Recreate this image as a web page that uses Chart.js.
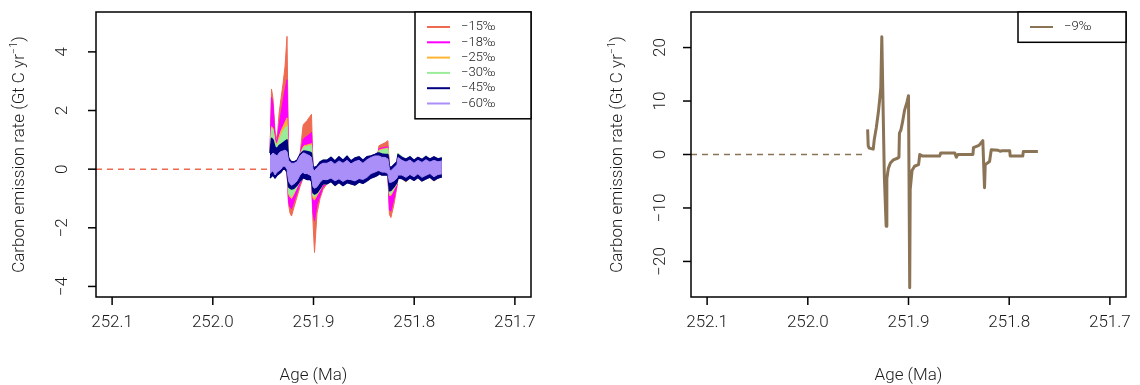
<!DOCTYPE html>
<html>
<head>
<meta charset="utf-8">
<script src="https://cdn.jsdelivr.net/npm/chart.js@4.4.1/dist/chart.umd.min.js"></script>
<style>
  body { margin: 0; background: #fff; }
  .panel { position: absolute; top: 0; }
</style>
</head>
<body>
<div class="panel" style="left:0"><canvas id="left" width="570" height="385"></canvas></div>
<div class="panel" style="left:570px"><canvas id="right" width="570" height="385"></canvas></div>
<script>
'use strict';

// shared axis ticks
const ageTicks = [252.1, 252.0, 251.9, 251.8, 251.7];
const leftRateTicks = [-4, -2, 0, 2, 4];
const rightRateTicks = [-20, -10, 0, 10, 20];

// left panel: upper / lower envelope of each scenario on a common age grid (Ma)
const ages = [251.9432, 251.9417, 251.9402, 251.9382, 251.9362, 251.9342, 251.9323, 251.9303, 251.9283, 251.9263,
  251.9248, 251.9233, 251.9218, 251.9194, 251.9164, 251.9134, 251.9104, 251.9094, 251.9065, 251.9035,
  251.9020, 251.9005, 251.8990, 251.8965, 251.8935, 251.8906, 251.8866, 251.8826, 251.8787, 251.8747,
  251.8707, 251.8667, 251.8628, 251.8588, 251.8548, 251.8509, 251.8469, 251.8429, 251.8390, 251.8360,
  251.8350, 251.8320, 251.8290, 251.8261, 251.8246, 251.8231, 251.8201, 251.8171, 251.8161, 251.8122,
  251.8082, 251.8042, 251.8002, 251.7963, 251.7923, 251.7883, 251.7844, 251.7804, 251.7764, 251.7725];

const hi15 = [0.6, 2.73, 2.4, 1.3, 1.0, 1.9, 2.4, 2.9, 3.5, 4.53,
  0.4, 0.3, 0.25, 0.25, 0.3, 0.5, 1.48, 1.55, 1.65, 1.8,
  1.87, 0.1, 0.05, 0.1, 0.25, 0.3, 0.3, 0.4, 0.28, 0.42,
  0.3, 0.44, 0.28, 0.38, 0.42, 0.3, 0.42, 0.45, 0.5, 0.55,
  0.8, 0.85, 0.9, 0.97, 0.1, 0.05, 0.15, 0.25, 0.5, 0.4,
  0.34, 0.42, 0.3, 0.4, 0.33, 0.43, 0.34, 0.42, 0.35, 0.38];
const lo15 = [-0.3, -0.25, -0.2, -0.3, -0.2, -0.15, -0.1, 0.0, 0.0, -0.1,
  -1.2, -1.5, -1.6, -1.3, -0.95, -0.6, -0.3, -0.3, -0.35, -0.35,
  -0.4, -1.8, -2.84, -1.5, -1.0, -0.7, -0.5, -0.42, -0.55, -0.45,
  -0.56, -0.46, -0.5, -0.54, -0.44, -0.48, -0.4, -0.3, -0.25, -0.2,
  -0.15, -0.2, -0.2, -0.2, -1.55, -1.65, -1.2, -0.6, -0.3, -0.32,
  -0.4, -0.3, -0.38, -0.28, -0.4, -0.33, -0.27, -0.38, -0.3, -0.26];

const hi18 = [0.6, 2.45, 2.2, 1.1, 0.9, 1.5, 1.9, 2.3, 2.7, 3.05,
  0.4, 0.3, 0.25, 0.25, 0.3, 0.5, 1.0, 1.05, 1.12, 1.2,
  1.25, 0.1, 0.05, 0.1, 0.25, 0.3, 0.3, 0.4, 0.28, 0.42,
  0.3, 0.44, 0.28, 0.38, 0.42, 0.3, 0.42, 0.45, 0.5, 0.55,
  0.7, 0.72, 0.74, 0.76, 0.1, 0.05, 0.15, 0.25, 0.5, 0.4,
  0.34, 0.42, 0.3, 0.4, 0.33, 0.43, 0.34, 0.42, 0.35, 0.38];
const lo18 = [-0.3, -0.25, -0.2, -0.3, -0.2, -0.15, -0.1, 0.0, 0.0, -0.1,
  -1.1, -1.3, -1.35, -1.1, -0.8, -0.5, -0.3, -0.3, -0.35, -0.35,
  -0.4, -1.5, -1.76, -1.2, -0.9, -0.6, -0.5, -0.42, -0.55, -0.45,
  -0.56, -0.46, -0.5, -0.54, -0.44, -0.48, -0.4, -0.3, -0.25, -0.2,
  -0.15, -0.2, -0.2, -0.2, -1.4, -1.42, -1.0, -0.55, -0.3, -0.32,
  -0.4, -0.3, -0.38, -0.28, -0.4, -0.33, -0.27, -0.38, -0.3, -0.26];

const hi25 = [0.55, 1.45, 1.4, 0.95, 0.85, 1.1, 1.3, 1.45, 1.6, 1.75,
  0.4, 0.3, 0.25, 0.25, 0.3, 0.5, 0.75, 0.8, 0.82, 0.85,
  0.87, 0.1, 0.05, 0.1, 0.25, 0.3, 0.3, 0.4, 0.28, 0.42,
  0.3, 0.44, 0.28, 0.38, 0.42, 0.3, 0.42, 0.45, 0.5, 0.55,
  0.65, 0.68, 0.7, 0.72, 0.1, 0.05, 0.15, 0.25, 0.55, 0.4,
  0.34, 0.42, 0.3, 0.4, 0.33, 0.43, 0.34, 0.42, 0.35, 0.38];
const lo25 = [-0.3, -0.25, -0.2, -0.3, -0.2, -0.15, -0.1, 0.0, 0.0, -0.1,
  -0.85, -0.95, -1.0, -0.85, -0.62, -0.42, -0.3, -0.3, -0.35, -0.35,
  -0.4, -1.0, -1.05, -0.9, -0.72, -0.52, -0.5, -0.42, -0.58, -0.45,
  -0.56, -0.46, -0.5, -0.54, -0.44, -0.48, -0.4, -0.3, -0.25, -0.2,
  -0.15, -0.2, -0.2, -0.2, -0.9, -0.9, -0.7, -0.5, -0.3, -0.32,
  -0.44, -0.3, -0.38, -0.28, -0.4, -0.33, -0.27, -0.41, -0.3, -0.26];

const hi30 = [0.55, 1.4, 1.35, 0.9, 0.8, 1.0, 1.15, 1.3, 1.4, 1.48,
  0.4, 0.3, 0.25, 0.25, 0.3, 0.5, 0.7, 0.75, 0.78, 0.8,
  0.82, 0.1, 0.05, 0.1, 0.25, 0.32, 0.3, 0.43, 0.28, 0.45,
  0.3, 0.47, 0.28, 0.38, 0.45, 0.3, 0.42, 0.45, 0.5, 0.55,
  0.62, 0.65, 0.68, 0.7, 0.1, 0.05, 0.15, 0.25, 0.55, 0.43,
  0.34, 0.45, 0.3, 0.4, 0.33, 0.46, 0.34, 0.42, 0.35, 0.41];
const lo30 = [-0.3, -0.2, -0.2, -0.3, -0.2, -0.1, 0.0, 0.05, 0.05, 0.0,
  -0.8, -0.9, -0.95, -0.8, -0.6, -0.42, -0.3, -0.3, -0.35, -0.35,
  -0.4, -0.9, -0.95, -0.85, -0.7, -0.5, -0.5, -0.42, -0.55, -0.45,
  -0.56, -0.46, -0.5, -0.54, -0.44, -0.48, -0.4, -0.3, -0.25, -0.2,
  -0.15, -0.2, -0.2, -0.2, -0.85, -0.85, -0.65, -0.5, -0.3, -0.32,
  -0.4, -0.3, -0.38, -0.28, -0.4, -0.33, -0.27, -0.38, -0.3, -0.26];

const hi45 = [0.55, 1.05, 1.0, 0.75, 0.7, 0.8, 0.85, 0.9, 0.95, 1.0,
  0.4, 0.3, 0.25, 0.25, 0.3, 0.5, 0.6, 0.62, 0.6, 0.58,
  0.55, 0.1, 0.05, 0.1, 0.25, 0.3, 0.3, 0.4, 0.28, 0.42,
  0.3, 0.44, 0.28, 0.38, 0.42, 0.3, 0.42, 0.45, 0.5, 0.55,
  0.55, 0.52, 0.5, 0.5, 0.1, 0.05, 0.15, 0.25, 0.5, 0.4,
  0.34, 0.42, 0.3, 0.4, 0.33, 0.43, 0.34, 0.42, 0.35, 0.38];
const lo45 = [-0.3, -0.25, -0.2, -0.3, -0.2, -0.15, -0.1, 0.0, 0.0, -0.1,
  -0.6, -0.65, -0.68, -0.65, -0.55, -0.4, -0.3, -0.3, -0.35, -0.35,
  -0.4, -0.8, -0.85, -0.8, -0.65, -0.5, -0.5, -0.42, -0.55, -0.45,
  -0.56, -0.46, -0.5, -0.54, -0.44, -0.48, -0.4, -0.3, -0.25, -0.2,
  -0.15, -0.2, -0.2, -0.2, -0.74, -0.72, -0.6, -0.45, -0.3, -0.32,
  -0.4, -0.3, -0.38, -0.28, -0.4, -0.33, -0.27, -0.38, -0.3, -0.26];

const hi60 = [0.45, 0.5, 0.55, 0.5, 0.45, 0.55, 0.6, 0.62, 0.65, 0.6,
  0.3, 0.25, 0.2, 0.2, 0.25, 0.45, 0.55, 0.55, 0.5, 0.45,
  0.4, 0.0, -0.05, 0.05, 0.15, 0.2, 0.2, 0.27, 0.17, 0.28,
  0.2, 0.3, 0.18, 0.26, 0.3, 0.2, 0.32, 0.4, 0.45, 0.45,
  0.45, 0.4, 0.4, 0.35, 0.0, -0.05, 0.05, 0.15, 0.4, 0.3,
  0.24, 0.31, 0.2, 0.3, 0.23, 0.32, 0.24, 0.3, 0.25, 0.28];
const lo60 = [-0.15, -0.1, -0.05, -0.2, -0.1, -0.05, 0.0, 0.1, 0.1, 0.0,
  -0.4, -0.5, -0.55, -0.5, -0.4, -0.2, -0.1, -0.15, -0.15, -0.2,
  -0.25, -0.6, -0.65, -0.6, -0.45, -0.35, -0.36, -0.3, -0.4, -0.33,
  -0.42, -0.34, -0.36, -0.4, -0.32, -0.35, -0.28, -0.15, -0.1, -0.05,
  -0.05, -0.1, -0.1, -0.15, -0.45, -0.45, -0.4, -0.3, -0.2, -0.2,
  -0.28, -0.18, -0.26, -0.16, -0.28, -0.21, -0.15, -0.26, -0.18, -0.16];

const leftLabels = ['\u221215\u2030', '\u221218\u2030', '\u221225\u2030', '\u221230\u2030', '\u221245\u2030', '\u221260\u2030'];
const leftColors = ['#ee6a50', '#ff00ff', '#ffb534', '#9aeb9a', '#000080', '#ab8ff8'];

// pre-event baseline (dashed) for both panels
const leftBaseAge = [252.116, 251.9445];
const rightBaseAge = [252.116, 251.9420];

// right panel: -9 permil scenario
const rightAges = [251.9406, 251.9400, 251.9390, 251.9350, 251.9340, 251.9320, 251.9300, 251.9285, 251.9275, 251.9265,
  251.9240, 251.9222, 251.9215, 251.9200, 251.9180, 251.9150, 251.9110, 251.9095, 251.9090, 251.9075,
  251.9060, 251.9040, 251.9015, 251.9000, 251.8988, 251.8983, 251.8965, 251.8940, 251.8900, 251.8888,
  251.8860, 251.8690, 251.8680, 251.8540, 251.8525, 251.8510, 251.8360, 251.8355, 251.8300, 251.8262,
  251.8245, 251.8238, 251.8195, 251.8178, 251.8110, 251.8090, 251.8070, 251.7995, 251.7990, 251.7865,
  251.7860, 251.7715];
const rightRates = [4.7, 1.6, 1.2, 1.0, 2.8, 5.0, 7.8, 10.5, 12.5, 22.0,
  -4.0, -13.4, -4.5, -2.6, -1.6, -1.0, -0.7, -0.5, 4.0, 4.6,
  6.0, 8.2, 9.8, 11.0, -24.9, -6.5, -3.0, -2.2, -1.9, 0.0,
  -0.3, -0.3, 0.3, 0.3, -0.5, 0.0, 0.0, 1.3, 1.7, 2.6,
  -6.2, -1.9, -1.3, 0.9, 0.8, 0.6, 0.7, 0.7, -0.3, -0.3,
  0.55, 0.55];
const rightLabels = ['\u22129\u2030'];
const rightColors = ['#8b7355'];

const FONT = 'Roboto, "Liberation Sans", Arial, sans-serif';
const INK = '#1a1a1a';

const pts = (xs, ys) => xs.map((x, i) => ({ x: x, y: ys[i] }));

// one filled band per scenario: upper edge fills down to the lower edge
function band(hi, lo, color, w) {
  return [
    { data: pts(ages, hi), borderColor: color, backgroundColor: color, borderWidth: w, fill: '+1' },
    { data: pts(ages, lo), borderColor: color, backgroundColor: color, borderWidth: w, fill: false }
  ];
}

function minus(v) {
  return v < 0 ? '\u2212' + Math.abs(v) : String(v);
}

// R-style box, ticks, labels, titles and legend
const frame = {
  id: 'frame',
  afterDraw(chart, args, o) {
    const { ctx, chartArea: a, scales } = chart;
    const x = scales.x, y = scales.y;
    ctx.save();
    ctx.strokeStyle = '#000';
    ctx.lineWidth = 1.5;
    ctx.strokeRect(a.left, a.top, a.right - a.left, a.bottom - a.top);

    ctx.fillStyle = INK;
    ctx.font = '300 17px ' + FONT;
    ctx.textAlign = 'center';
    ctx.textBaseline = 'middle';

    ageTicks.forEach(t => {
      const px = x.getPixelForValue(t);
      ctx.beginPath();
      ctx.moveTo(px, a.bottom);
      ctx.lineTo(px, a.bottom + 8);
      ctx.stroke();
      ctx.fillText(t.toFixed(1), px, a.bottom + 26);
    });

    o.yTicks.forEach(t => {
      const py = y.getPixelForValue(t);
      ctx.beginPath();
      ctx.moveTo(a.left - 8, py);
      ctx.lineTo(a.left, py);
      ctx.stroke();
      ctx.save();
      ctx.translate(a.left - o.labelGap, py);
      ctx.rotate(-Math.PI / 2);
      ctx.fillText(minus(t), 0, 0);
      ctx.restore();
    });

    ctx.fillText('Age (Ma)', (a.left + a.right) / 2, a.bottom + 79);

    // y title with superscript exponent
    const t1 = 'Carbon emission rate (Gt C yr', sup = '\u22121', t3 = ')';
    const w1 = ctx.measureText(t1).width, w3 = ctx.measureText(t3).width;
    ctx.font = '300 11px ' + FONT;
    const ws = ctx.measureText(sup).width;
    const total = w1 + ws + w3;
    ctx.save();
    ctx.translate(a.left - o.titleGap, (a.top + a.bottom) / 2);
    ctx.rotate(-Math.PI / 2);
    ctx.textAlign = 'left';
    ctx.font = '300 17px ' + FONT;
    ctx.fillText(t1, -total / 2, 0);
    ctx.font = '300 11px ' + FONT;
    ctx.fillText(sup, -total / 2 + w1, -6);
    ctx.font = '300 17px ' + FONT;
    ctx.fillText(t3, -total / 2 + w1 + ws, 0);
    ctx.restore();

    // legend box in the top right corner
    const lg = o.legend;
    const bx = a.right - lg.width, by = a.top;
    const bh = 15 + lg.labels.length * 15.3;
    ctx.fillStyle = '#fff';
    ctx.fillRect(bx, by, lg.width, bh);
    ctx.strokeStyle = '#000';
    ctx.lineWidth = 1.5;
    ctx.strokeRect(bx, by, lg.width, bh);
    ctx.font = '300 13px ' + FONT;
    ctx.textAlign = 'left';
    lg.labels.forEach((lab, i) => {
      const ry = by + 15 + i * 15.3;
      ctx.strokeStyle = lg.colors[i];
      ctx.lineWidth = 2;
      ctx.beginPath();
      ctx.moveTo(bx + 12, ry);
      ctx.lineTo(bx + 35, ry);
      ctx.stroke();
      ctx.fillStyle = INK;
      ctx.fillText(lab, bx + 46, ry);
    });
    ctx.restore();
  }
};

function baseOptions(pad, yMin, yMax, extra) {
  return {
    responsive: false,
    animation: false,
    layout: { padding: pad },
    elements: { point: { radius: 0 }, line: { tension: 0, borderJoinStyle: 'round' } },
    plugins: {
      legend: { display: false },
      tooltip: { enabled: false },
      filler: { propagate: false },
      frame: extra
    },
    scales: {
      x: { type: 'linear', display: false, reverse: true, min: 251.684, max: 252.116 },
      y: { type: 'linear', display: false, min: yMin, max: yMax }
    }
  };
}

const leftSets = [].concat(
  band(hi60, lo60, leftColors[5], 1),
  band(hi45, lo45, leftColors[4], 1.5),
  band(hi30, lo30, leftColors[3], 1),
  band(hi25, lo25, leftColors[2], 1),
  band(hi18, lo18, leftColors[1], 1),
  band(hi15, lo15, leftColors[0], 1),
  [{ data: pts(leftBaseAge, [0, 0]), borderColor: leftColors[0], borderWidth: 1.5, borderDash: [6, 5], fill: false }]
);

new Chart(document.getElementById('left'), {
  type: 'line',
  data: { datasets: leftSets },
  options: baseOptions({ left: 96, top: 12, right: 39, bottom: 88 }, -4.36, 5.36, {
    yTicks: leftRateTicks, labelGap: 33, titleGap: 76,
    legend: { width: 116, labels: leftLabels, colors: leftColors }
  }),
  plugins: [frame]
});

new Chart(document.getElementById('right'), {
  type: 'line',
  data: {
    datasets: [
      { data: pts(rightAges, rightRates), borderColor: rightColors[0], borderWidth: 3, fill: false },
      { data: pts(rightBaseAge, [0, 0]), borderColor: rightColors[0], borderWidth: 1.5, borderDash: [6, 5], fill: false }
    ]
  },
  options: baseOptions({ left: 121, top: 12, right: 14, bottom: 88 }, -26.65, 26.65, {
    yTicks: rightRateTicks, labelGap: 30, titleGap: 73,
    legend: { width: 108, labels: rightLabels, colors: rightColors }
  }),
  plugins: [frame]
});
</script>
</body>
</html>
